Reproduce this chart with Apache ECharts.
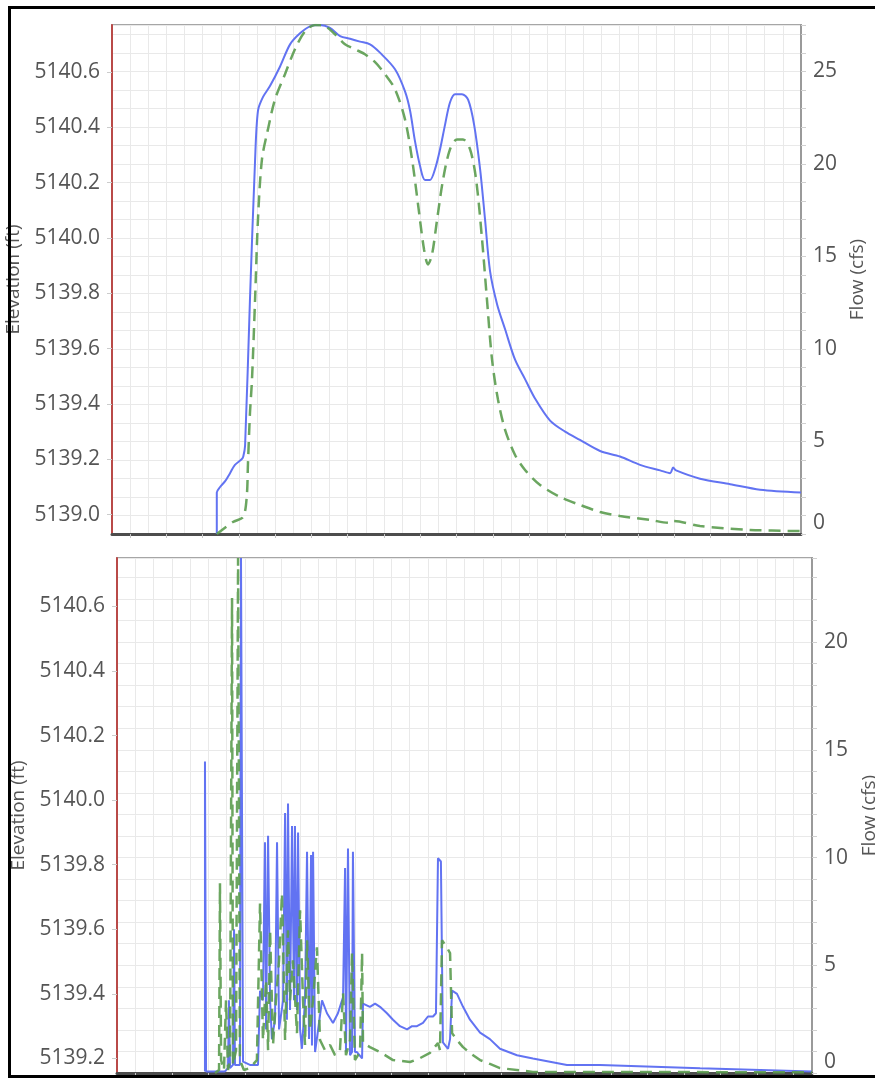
<!DOCTYPE html>
<html>
<head>
<meta charset="utf-8">
<title>Elevation and Flow</title>
<script src="https://cdn.jsdelivr.net/npm/echarts@6/dist/echarts.min.js"></script>
<style>
  html, body { margin: 0; padding: 0; background: #ffffff; }
  #chart { width: 875px; height: 1078px; }
</style>
</head>
<body>
<div id="chart"></div>
<script>
// ---- Upper panel: hydrograph (time in hours, elevation in ft, flow in cfs) ----
const upperElevation = [
  [5.78,5138.93],[5.78,5139.08],[5.96,5139.10],[6.23,5139.12],[6.51,5139.15],[6.78,5139.18],
  [7.15,5139.20],[7.24,5139.21],[7.34,5139.25],[7.61,5139.78],[7.89,5140.28],[8.05,5140.46],
  [8.33,5140.51],[8.72,5140.55],[9.27,5140.62],[9.82,5140.70],[10.37,5140.74],[10.92,5140.765],
  [11.47,5140.77],[12.02,5140.76],[12.58,5140.73],[13.13,5140.72],[13.68,5140.71],[14.23,5140.70],
  [14.78,5140.67],[15.61,5140.61],[16.16,5140.53],[16.44,5140.46],[16.71,5140.35],[16.99,5140.26],
  [17.26,5140.21],[17.54,5140.21],[17.82,5140.25],[18.09,5140.32],[18.37,5140.41],[18.64,5140.49],
  [18.92,5140.52],[19.30,5140.52],[19.64,5140.50],[19.97,5140.41],[20.30,5140.25],[20.57,5140.07],
  [20.85,5139.88],[21.24,5139.76],[21.68,5139.67],[22.23,5139.56],[22.78,5139.49],[23.33,5139.42],
  [24.16,5139.34],[24.99,5139.30],[25.81,5139.27],[26.92,5139.23],[28.02,5139.21],[29.12,5139.18],
  [30.23,5139.16],[30.78,5139.15],[30.95,5139.17],[31.11,5139.16],[32.43,5139.13],[34.09,5139.11],
  [35.74,5139.09],[38.0,5139.08]
];
const upperFlow = [
  [5.78,0],[6.67,0.65],[7.23,0.92],[7.43,2.0],[7.50,3.84],[7.61,6.55],[7.72,8.33],[7.89,12.66],
  [8.05,16.99],[8.27,20.24],[8.60,21.86],[8.99,23.48],[9.54,24.84],[10.09,26.19],[10.65,27.16],
  [11.20,27.5],[11.75,27.44],[12.30,27.0],[12.85,26.46],[13.40,26.19],[13.95,25.92],[14.51,25.49],
  [15.06,24.84],[15.61,24.03],[16.16,22.40],[16.55,20.24],[16.88,17.80],[17.21,15.37],[17.43,14.56],
  [17.65,15.10],[17.93,16.99],[18.26,19.16],[18.64,20.78],[19.03,21.32],[19.36,21.32],[19.75,20.78],
  [20.08,19.16],[20.41,15.91],[20.68,12.66],[20.96,9.42],[21.29,7.25],[21.68,5.63],[22.23,4.27],
  [22.78,3.46],[23.61,2.65],[24.71,2.00],[25.81,1.57],[26.92,1.19],[28.02,0.97],[29.67,0.76],
  [30.78,0.60],[30.95,0.70],[32.43,0.43],[35.19,0.22],[37.95,0.16]
];

// ---- Lower panel: oscillating record ----
const lowerElevation = [
  [4.81,5139.16],[4.81,5140.12],[4.87,5139.16],[5.90,5139.16],[6.07,5139.17],[6.12,5139.38],
  [6.18,5139.17],[6.34,5139.18],[6.40,5139.60],[6.45,5139.18],[6.72,5139.18],[6.78,5140.75],
  [6.89,5139.19],[7.27,5139.18],[7.71,5139.18],[7.82,5139.41],[7.98,5139.38],[8.09,5139.87],
  [8.15,5139.29],[8.26,5139.89],[8.37,5139.38],[8.47,5139.26],[8.64,5139.32],[8.75,5139.87],
  [8.86,5139.29],[9.08,5139.38],[9.19,5139.96],[9.29,5139.32],[9.35,5139.99],[9.46,5139.35],
  [9.57,5139.92],[9.68,5139.38],[9.73,5139.92],[9.84,5139.35],[9.90,5139.90],[10.01,5139.29],
  [10.11,5139.23],[10.28,5139.38],[10.39,5139.84],[10.50,5139.26],[10.61,5139.83],[10.66,5139.24],
  [10.72,5139.84],[10.83,5139.22],[10.93,5139.22],[11.21,5139.38],[11.48,5139.34],[11.81,5139.31],
  [12.08,5139.34],[12.36,5139.39],[12.47,5139.79],[12.52,5139.22],[12.63,5139.85],[12.74,5139.21],
  [12.85,5139.22],[12.90,5139.84],[13.01,5139.22],[13.12,5139.22],[13.40,5139.20],[13.45,5139.37],
  [13.83,5139.36],[14.11,5139.37],[14.38,5139.36],[14.76,5139.34],[15.09,5139.32],[15.47,5139.30],
  [15.86,5139.29],[16.13,5139.30],[16.40,5139.30],[16.73,5139.31],[17.00,5139.33],[17.28,5139.33],
  [17.44,5139.34],[17.55,5139.82],[17.71,5139.81],[17.82,5139.25],[18.10,5139.23],[18.21,5139.26],
  [18.32,5139.41],[18.59,5139.40],[18.92,5139.36],[19.30,5139.32],[19.85,5139.28],[20.39,5139.26],
  [20.94,5139.23],[21.87,5139.21],[22.74,5139.20],[24.60,5139.18],[26.41,5139.18],[31.88,5139.17],
  [38.0,5139.16]
];
const lowerFlow = [
  [5.36,0],[5.58,0.14],[5.63,8.80],[5.69,0.60],[5.85,0.14],[5.96,3.38],[6.07,0.14],[6.18,0.60],
  [6.29,22.04],[6.34,0.37],[6.51,1.06],[6.62,23.9],[6.72,0.60],[6.94,0.14],[7.27,0.23],[7.65,0.60],
  [7.82,7.87],[7.98,1.53],[8.15,4.31],[8.26,1.06],[8.37,6.62],[8.53,1.30],[8.69,3.38],[8.86,5.23],
  [9.02,8.33],[9.19,1.53],[9.35,6.62],[9.46,3.38],[9.62,5.23],[9.84,1.85],[10.01,7.55],[10.17,3.38],
  [10.28,1.30],[10.39,6.16],[10.55,1.99],[10.72,3.38],[10.93,5.83],[11.10,1.53],[11.37,1.06],
  [11.65,1.30],[11.92,0.83],[12.19,1.06],[12.36,3.70],[12.52,0.83],[12.74,1.53],[12.85,5.56],
  [13.01,0.60],[13.18,0.83],[13.29,1.06],[13.40,5.56],[13.45,1.39],[13.83,1.20],[14.38,0.97],
  [15.09,0.60],[16.02,0.51],[16.57,0.69],[17.11,0.93],[17.55,1.39],[17.66,1.06],[17.77,6.16],
  [18.04,5.83],[18.21,5.56],[18.32,1.85],[18.59,1.53],[18.92,1.20],[19.30,0.93],[19.85,0.60],
  [20.39,0.42],[20.94,0.23],[22.74,0.05],[26.41,0.05],[38.0,0.03]
];

// Axis ranges and label values
const timeRange = [0, 38];
const upperElevRange = [5138.93, 5140.77];
const upperFlowRange = [0, 27.5];
const lowerElevRange = [5139.155, 5140.75];
const lowerFlowRange = [0, 23.9];
const upperElevTicks = [5139.0, 5139.2, 5139.4, 5139.6, 5139.8, 5140.0, 5140.2, 5140.4, 5140.6];
const lowerElevTicks = [5139.2, 5139.4, 5139.6, 5139.8, 5140.0, 5140.2, 5140.4, 5140.6];

const FONT = 'Open Sans';
const LABEL_COLOR = '#555555';
const GRID_COLOR = '#e9e9e9';
const BLUE = '#6273f2';
const GREEN = '#5b9c4f';

function timeAxis(gridIndex) {
  return {
    type: 'value', gridIndex: gridIndex,
    min: timeRange[0], max: timeRange[1], interval: 2,
    axisLine: { show: true, onZero: false, lineStyle: { color: '#4d4d4d', width: 3 } },
    axisTick: { show: false },
    minorTick: { show: true, splitNumber: 2, length: 4, lineStyle: { color: '#c8c8c8', width: 1 } },
    axisLabel: { show: false },
    splitLine: { show: true, lineStyle: { color: GRID_COLOR, width: 1 } },
    minorSplitLine: { show: true, lineStyle: { color: GRID_COLOR, width: 1 } }
  };
}

function elevAxis(gridIndex, range, ticks, nameGap) {
  return {
    type: 'value', gridIndex: gridIndex, position: 'left',
    min: range[0], max: range[1],
    name: 'Elevation (ft)', nameLocation: 'middle', nameRotate: 90, nameGap: nameGap,
    nameTextStyle: { fontFamily: FONT, fontSize: 19, color: LABEL_COLOR },
    axisLine: { show: true, lineStyle: { color: '#b94a48', width: 2 } },
    axisTick: { show: true, length: 5, customValues: ticks, lineStyle: { color: '#cccccc' } },
    axisLabel: {
      customValues: ticks, margin: 12,
      fontFamily: FONT, fontSize: 21, color: LABEL_COLOR,
      formatter: v => v.toFixed(1)
    },
    splitLine: { show: false }
  };
}

function flowAxis(gridIndex, range, nameGap) {
  return {
    type: 'value', gridIndex: gridIndex, position: 'right',
    min: range[0], max: range[1], interval: 1,
    name: 'Flow (cfs)', nameLocation: 'middle', nameRotate: 90, nameGap: nameGap,
    nameTextStyle: { fontFamily: FONT, fontSize: 19, color: LABEL_COLOR },
    axisLine: { show: true, lineStyle: { color: '#9a9a9a', width: 2 } },
    axisTick: { show: true, length: 5, lineStyle: { color: '#d0d0d0' } },
    axisLabel: {
      margin: 12, fontFamily: FONT, fontSize: 21, color: LABEL_COLOR,
      verticalAlignMinLabel: 'bottom',
      formatter: v => (Math.abs(v % 5) < 1e-9 ? String(v) : '')
    },
    splitLine: { show: true, lineStyle: { color: GRID_COLOR, width: 1 } }
  };
}

function elevSeries(xi, yi, data, smooth) {
  return {
    type: 'line', xAxisIndex: xi, yAxisIndex: yi, data: data,
    showSymbol: false, smooth: smooth,
    lineStyle: { color: BLUE, width: 2 }, z: 3
  };
}

function flowSeries(xi, yi, data, smooth) {
  return {
    type: 'line', xAxisIndex: xi, yAxisIndex: yi, data: data,
    showSymbol: false, smooth: smooth,
    lineStyle: { color: GREEN, width: 2.5, type: [12, 7], opacity: 0.9 }, z: 4
  };
}

const chart = echarts.init(document.getElementById('chart'), null, { renderer: 'canvas' });
chart.setOption({
  animation: false,
  backgroundColor: '#ffffff',
  grid: [
    { left: 112, top: 25, width: 689, height: 509, outerBoundsMode: 'none', containLabel: false,
      show: true, borderColor: '#a6a6a6', borderWidth: 2, backgroundColor: 'transparent' },
    { left: 117, top: 558, width: 695, height: 515, outerBoundsMode: 'none', containLabel: false,
      show: true, borderColor: '#a6a6a6', borderWidth: 2, backgroundColor: 'transparent' }
  ],
  xAxis: [timeAxis(0), timeAxis(1)],
  yAxis: [
    elevAxis(0, upperElevRange, upperElevTicks, 82),
    flowAxis(0, upperFlowRange, 45),
    elevAxis(1, lowerElevRange, lowerElevTicks, 79),
    flowAxis(1, lowerFlowRange, 48)
  ],
  series: [
    elevSeries(0, 0, upperElevation, 0.3),
    flowSeries(0, 1, upperFlow, 0.3),
    elevSeries(1, 2, lowerElevation, false),
    flowSeries(1, 3, lowerFlow, false)
  ],
  graphic: [
    {
      type: 'rect', silent: true, z: 100,
      shape: { x: 9.5, y: 7.5, width: 880, height: 1069 },
      style: { fill: 'none', stroke: '#000000', lineWidth: 3 }
    }
  ]
});
</script>
</body>
</html>
